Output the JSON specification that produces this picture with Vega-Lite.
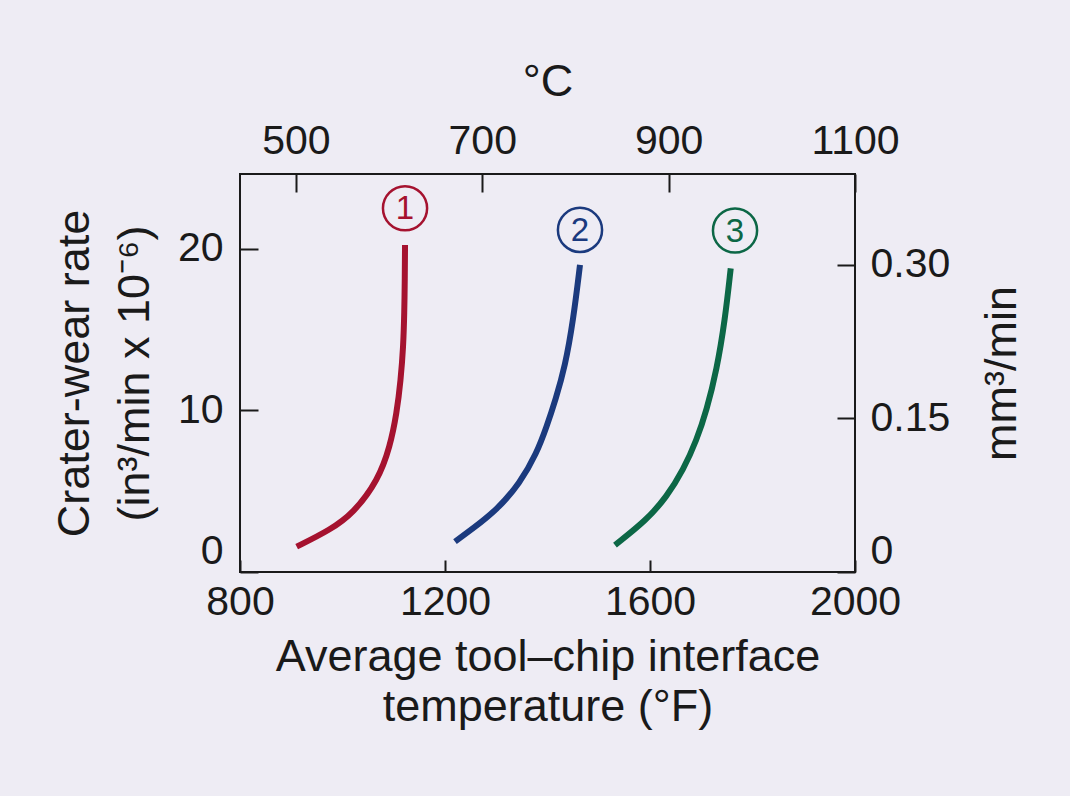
{
  "$schema": "https://vega.github.io/schema/vega-lite/v6.json",
  "width": 615,
  "height": 398,
  "autosize": {"type": "none"},
  "padding": {"left": 240, "top": 174, "right": 215, "bottom": 224},
  "background": "#eeecf4",
  "config": {
    "font": "Liberation Sans",
    "view": {"stroke": "#1a1a1a", "strokeWidth": 2},
    "axis": {
      "grid": false,
      "domain": false,
      "tickColor": "#1a1a1a",
      "tickWidth": 2,
      "labelColor": "#1a1a1a",
      "titleColor": "#1a1a1a",
      "labelFont": "Liberation Sans",
      "titleFont": "Liberation Sans",
      "labelFontSize": 41,
      "titleFontSize": 45,
      "titleFontWeight": "normal",
      "labelOverlap": false,
      "format": "d"
    }
  },
  "datasets": {
    "curves": [
      {"series": "1", "F": 910.6, "W": 1.57},
      {"series": "1", "F": 975.6, "W": 2.6},
      {"series": "1", "F": 1021.1, "W": 3.63},
      {"series": "1", "F": 1069.9, "W": 5.7},
      {"series": "1", "F": 1092.7, "W": 7.76},
      {"series": "1", "F": 1105.8, "W": 9.83},
      {"series": "1", "F": 1113.6, "W": 11.89},
      {"series": "1", "F": 1118.6, "W": 13.95},
      {"series": "1", "F": 1120.6, "W": 16.02},
      {"series": "1", "F": 1121.6, "W": 18.2},
      {"series": "1", "F": 1122.0, "W": 20.25},
      {"series": "2", "F": 1219.5, "W": 1.88},
      {"series": "2", "F": 1255.2, "W": 2.71},
      {"series": "2", "F": 1300.9, "W": 3.84},
      {"series": "2", "F": 1346.3, "W": 5.49},
      {"series": "2", "F": 1378.9, "W": 7.35},
      {"series": "2", "F": 1398.4, "W": 9.0},
      {"series": "2", "F": 1416.0, "W": 10.7},
      {"series": "2", "F": 1434.1, "W": 12.7},
      {"series": "2", "F": 1450.3, "W": 15.6},
      {"series": "2", "F": 1463.4, "W": 19.01},
      {"series": "3", "F": 1531.7, "W": 1.67},
      {"series": "3", "F": 1593.6, "W": 3.22},
      {"series": "3", "F": 1632.6, "W": 4.66},
      {"series": "3", "F": 1665.0, "W": 6.32},
      {"series": "3", "F": 1691.1, "W": 8.17},
      {"series": "3", "F": 1710.6, "W": 10.03},
      {"series": "3", "F": 1730.1, "W": 12.51},
      {"series": "3", "F": 1746.3, "W": 15.6},
      {"series": "3", "F": 1757.5, "W": 18.8}
    ],
    "tags": [
      {"series": "1", "F": 1122, "W": 22.52, "label": "1"},
      {"series": "2", "F": 1463.4, "W": 21.18, "label": "2"},
      {"series": "3", "F": 1765.9, "W": 21.14, "label": "3"}
    ],
    "celsius": [{"C": 500}, {"C": 700}, {"C": 900}, {"C": 1100}],
    "metric": [{"mm": 0}, {"mm": 0.15}, {"mm": 0.3}]
  },
  "layer": [
    {
      "data": {"name": "curves"},
      "mark": {"type": "line", "strokeWidth": 6, "interpolate": "basis", "strokeCap": "butt"},
      "encoding": {
        "x": {
          "field": "F", "type": "quantitative",
          "scale": {"domain": [800, 2000], "nice": false, "zero": false},
          "axis": {
            "orient": "bottom", "values": [800, 1200, 1600, 2000],
            "tickSize": -12, "labelPadding": 22, "labelFlush": false,
            "title": ["Average tool\u2013chip interface", "temperature (\u00b0F)"],
            "titleLineHeight": 50, "titlePadding": 12
          }
        },
        "y": {
          "field": "W", "type": "quantitative",
          "scale": {"domain": [0, 24.64], "nice": false},
          "axis": {
            "orient": "left", "values": [0, 10, 20],
            "tickSize": -18, "labelPadding": 35, "labelFlush": true,
            "title": ["Crater-wear rate", "(in\u00b3/min x 10\u207b\u2076)"],
            "titleLineHeight": 60, "titlePadding": 20
          }
        },
        "color": {
          "field": "series", "type": "nominal",
          "scale": {"domain": ["1", "2", "3"], "range": ["#a5122f", "#1b3a7e", "#0c6746"]},
          "legend": null
        },
        "order": {"field": "W", "type": "quantitative"}
      }
    },
    {
      "data": {"name": "tags"},
      "mark": {"type": "point", "shape": "circle", "filled": false, "size": 1950, "strokeWidth": 2.5, "opacity": 1},
      "encoding": {
        "x": {"field": "F", "type": "quantitative", "scale": {"domain": [800, 2000], "nice": false, "zero": false}, "axis": null},
        "y": {"field": "W", "type": "quantitative", "scale": {"domain": [0, 24.64], "nice": false}, "axis": null},
        "color": {"field": "series", "type": "nominal", "legend": null}
      }
    },
    {
      "data": {"name": "tags"},
      "mark": {"type": "text", "fontSize": 33, "font": "Liberation Sans", "baseline": "middle", "align": "center", "dy": 1},
      "encoding": {
        "x": {"field": "F", "type": "quantitative", "scale": {"domain": [800, 2000], "nice": false, "zero": false}, "axis": null},
        "y": {"field": "W", "type": "quantitative", "scale": {"domain": [0, 24.64], "nice": false}, "axis": null},
        "text": {"field": "label"},
        "color": {"field": "series", "type": "nominal", "legend": null}
      }
    },
    {
      "data": {"name": "celsius"},
      "mark": {"type": "point", "opacity": 0},
      "encoding": {
        "x": {
          "field": "C", "type": "quantitative",
          "scale": {"domain": [440, 1100], "nice": false, "zero": false},
          "axis": {
            "orient": "top", "values": [500, 700, 900, 1100],
            "tickSize": -18, "labelPadding": 30, "labelFlush": false,
            "title": "\u00b0C", "titlePadding": 16
          }
        }
      }
    },
    {
      "data": {"name": "metric"},
      "mark": {"type": "point", "opacity": 0},
      "encoding": {
        "y": {
          "field": "mm", "type": "quantitative",
          "scale": {"domain": [0, 0.3889], "nice": false},
          "axis": {
            "orient": "right", "values": [0, 0.15, 0.3],
            "labelExpr": "datum.value === 0 ? '0' : format(datum.value, '.2f')",
            "tickSize": -18, "labelPadding": 33, "labelFlush": true,
            "title": "mm\u00b3/min", "titleAngle": -90, "titleBaseline": "top", "titlePadding": 30
          }
        }
      }
    }
  ],
  "resolve": {"scale": {"x": "independent", "y": "independent"}}
}
